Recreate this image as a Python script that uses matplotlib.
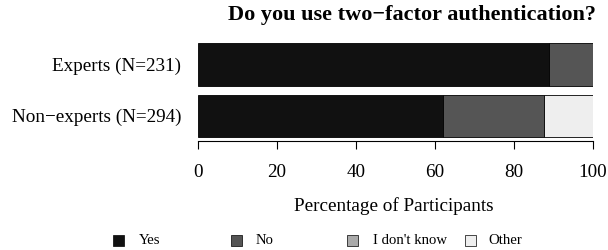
import matplotlib
matplotlib.use("Agg")
import matplotlib.pyplot as plt
from matplotlib.patches import Rectangle

groups = ["Non\u2212experts (N=294)", "Experts (N=231)"]
categories = ["Yes", "No", "I don't know", "Other"]
colors = ["#111111", "#555555", "#aaaaaa", "#eeeeee"]
values = {
    "Yes": [62.0, 88.8],
    "No": [25.7, 11.2],
    "I don't know": [0.0, 0.0],
    "Other": [12.3, 0.0],
}
xticks = [0, 20, 40, 60, 80, 100]

plt.rcParams['font.family'] = ['Liberation Serif', 'DejaVu Serif']

W, H = 608, 250
fig = plt.figure(figsize=(W/100, H/100), dpi=100)
ax = fig.add_axes([198/W, 1-141/H, (593-198)/W, (141-39)/H])

left = [0.0, 0.0]
pos = [0, 1]
for cat, col in zip(categories, colors):
    v = values[cat]
    ax.barh(pos, v, left=left, height=0.83, color=col, edgecolor='black', linewidth=0.6)
    left = [l + x for l, x in zip(left, v)]

ax.set_xlim(0, 100)
ax.set_ylim(-0.494, 1.5)
ax.set_yticks(pos)
ax.set_yticklabels(groups, fontsize=13.8)
ax.tick_params(axis='y', length=0, pad=12)
ax.set_xticks(xticks)
ax.set_xticklabels([str(t) for t in xticks], fontsize=13.8)
ax.tick_params(axis='x', length=6, pad=10.5, width=0.8)
for s in ['top', 'right', 'left']:
    ax.spines[s].set_visible(False)
ax.spines['bottom'].set_bounds(0, 100)
ax.spines['bottom'].set_linewidth(0.8)

fig.text(412/W, 1-15/H, "Do you use two\u2212factor authentication?", ha='center', va='center',
         fontsize=16, fontweight='bold')
fig.text(394/W, 1-206/H, "Percentage of Participants", ha='center', va='center', fontsize=13.8)

leg_x = [113, 231, 347, 465]
txt_x = [139, 256, 373, 488]
for cat, col, mx, tx in zip(categories, colors, leg_x, txt_x):
    fig.patches.append(Rectangle((mx/W, 1-245.5/H), 11/W, 10.5/H, transform=fig.transFigure,
                                 facecolor=col, edgecolor='black', linewidth=0.5))
    fig.text(tx/W, 1-240.5/H, cat, ha='left', va='center', fontsize=10.6)

fig.savefig("out.png", dpi=100)
